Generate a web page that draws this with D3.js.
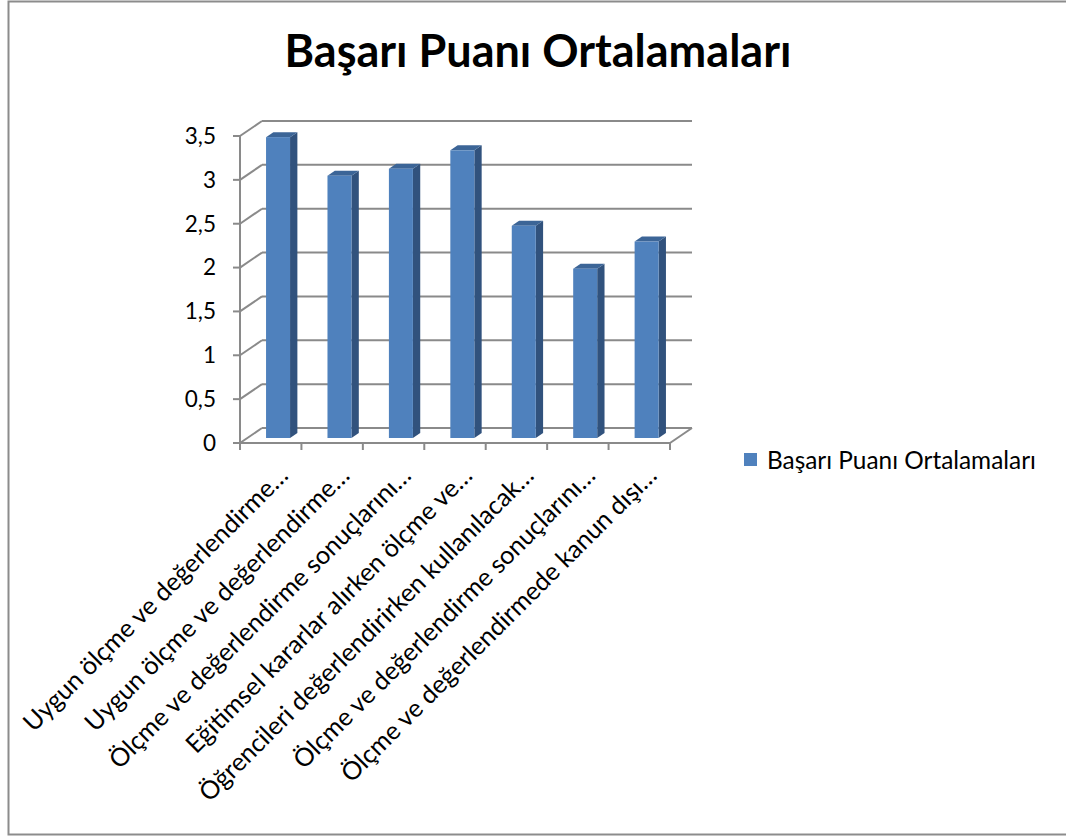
<!DOCTYPE html>
<html>
<head>
<meta charset="utf-8">
<script src="https://cdn.jsdelivr.net/npm/d3@7"></script>
<style>
  html, body { margin: 0; padding: 0; background: #fff; }
  svg { display: block; font-family: Lato, "Open Sans", sans-serif; }
</style>
</head>
<body>
<svg id="chart" width="1066" height="837"></svg>
<script>
// ---- data ----
const chartTitle = "Başarı Puanı Ortalamaları";
const seriesName = "Başarı Puanı Ortalamaları";
const categories = [
  "Uygun ölçme ve değerlendirme…",
  "Uygun ölçme ve değerlendirme…",
  "Ölçme ve değerlendirme sonuçlarını…",
  "Eğitimsel kararlar alırken ölçme ve…",
  "Öğrencileri değerlendirirken kullanılacak…",
  "Ölçme ve değerlendirme sonuçlarını…",
  "Ölçme ve değerlendirmede kanun dışı…"
];
const values = [3.43, 2.99, 3.07, 3.28, 2.42, 1.93, 2.24];
const yTicks = [0, 0.5, 1, 1.5, 2, 2.5, 3, 3.5];
const yTickLabels = ["0", "0,5", "1", "1,5", "2", "2,5", "3", "3,5"];

// ---- layout ----
const svg = d3.select("#chart");
const front = { left: 240, right: 670, bottom: 443, top: 136 };
const depth = { dx: 22, dy: -15 };
const gridColor = "#8a8a8a";
const colFront = "#4F81BD", colSide = "#31527D", colTop = "#3C6597";

const x = d3.scaleBand().domain(d3.range(categories.length)).range([front.left, front.right]).paddingInner(0).paddingOuter(0);
const y = d3.scaleLinear().domain([0, 3.5]).range([front.bottom, front.top]);

// outer border
svg.append("rect").attr("x", 8.5).attr("y", 1.5).attr("width", 1070).attr("height", 833)
  .attr("fill", "none").attr("stroke", "#8c8c8c").attr("stroke-width", 2);

function fitFont(sel, target, weight) {
  sel.attr("font-size", 20).attr("font-weight", weight || "normal");
  const w = sel.node().getComputedTextLength();
  const fs = 20 * target / w;
  sel.attr("font-size", fs);
  return fs;
}

// title
const title = svg.append("text").attr("x", 538).attr("y", 67).attr("text-anchor", "middle")
  .attr("fill", "#000").text(chartTitle);
fitFont(title, 507, "bold");

const g = svg.append("g");

// walls: diagonals + back gridlines
yTicks.forEach(t => {
  const yy = y(t);
  g.append("line").attr("x1", front.left).attr("y1", yy).attr("x2", front.left + depth.dx).attr("y2", yy + depth.dy)
    .attr("stroke", gridColor).attr("stroke-width", 2);
  g.append("line").attr("x1", front.left + depth.dx).attr("y1", yy + depth.dy)
    .attr("x2", front.right + depth.dx).attr("y2", yy + depth.dy)
    .attr("stroke", gridColor).attr("stroke-width", 2);
  g.append("line").attr("x1", front.left - 7).attr("y1", yy).attr("x2", front.left).attr("y2", yy)
    .attr("stroke", gridColor).attr("stroke-width", 2);
});
// floor front + right edge
g.append("line").attr("x1", front.left).attr("y1", front.bottom).attr("x2", front.right).attr("y2", front.bottom)
  .attr("stroke", gridColor).attr("stroke-width", 2);
g.append("line").attr("x1", front.right).attr("y1", front.bottom).attr("x2", front.right + depth.dx).attr("y2", front.bottom + depth.dy)
  .attr("stroke", gridColor).attr("stroke-width", 2);
// y axis line
g.append("line").attr("x1", front.left).attr("y1", y(3.5)).attr("x2", front.left).attr("y2", front.bottom)
  .attr("stroke", gridColor).attr("stroke-width", 2);
// category ticks
d3.range(categories.length + 1).forEach(i => {
  const xx = i < categories.length ? x(i) : front.right;
  g.append("line").attr("x1", xx).attr("y1", front.bottom).attr("x2", xx).attr("y2", front.bottom + 7)
    .attr("stroke", gridColor).attr("stroke-width", 2);
});

// y labels
svg.append("g").selectAll("text").data(yTicks).join("text")
  .attr("x", 216).attr("y", d => y(d)).attr("dy", "0.35em").attr("text-anchor", "end")
  .attr("fill", "#000").attr("font-size", 22.5).text((d, i) => yTickLabels[i]);

// bars
const d0 = 1/3, d1 = 2/3, barW = 24;
const bars = svg.append("g").selectAll("g").data(values).join("g");
bars.each(function(v, i) {
  const gg = d3.select(this);
  const cx = x(i) + x.bandwidth() / 2;
  const xl = cx + depth.dx * d0 - barW / 2, xr = xl + barW;
  const yb = y(0) + depth.dy * d0, yt = y(v) + depth.dy * d0;
  const ddx = depth.dx * (d1 - d0), ddy = depth.dy * (d1 - d0);
  gg.append("path").attr("d", `M${xr},${yb}L${xr + ddx},${yb + ddy}L${xr + ddx},${yt + ddy}L${xr},${yt}Z`).attr("fill", colSide);
  gg.append("path").attr("d", `M${xl},${yt}L${xr},${yt}L${xr + ddx},${yt + ddy}L${xl + ddx},${yt + ddy}Z`).attr("fill", colTop);
  gg.append("rect").attr("x", xl).attr("y", yt).attr("width", barW).attr("height", yb - yt).attr("fill", colFront);
});

// x labels
const xlab = svg.append("g").selectAll("text").data(categories).join("text")
  .attr("text-anchor", "end").attr("fill", "#000")
  .attr("transform", (d, i) => `translate(${x(i) + x.bandwidth() / 2 + 19},${477}) rotate(-45)`)
  .text(d => d);
const xfs = fitFont(d3.select(xlab.nodes()[0]), 362);
xlab.attr("font-size", xfs);

// legend
svg.append("rect").attr("x", 744).attr("y", 453).attr("width", 13).attr("height", 13).attr("fill", colFront);
const lt = svg.append("text").attr("x", 767).attr("y", 460).attr("dy", "0.35em").attr("fill", "#000").text(seriesName);
fitFont(lt, 269);
</script>
</body>
</html>
